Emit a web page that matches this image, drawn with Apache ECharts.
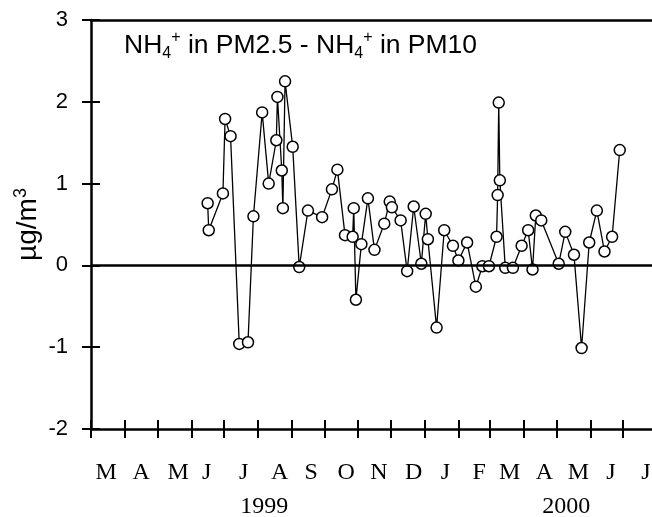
<!DOCTYPE html>
<html>
<head>
<meta charset="utf-8">
<script src="https://cdn.jsdelivr.net/npm/echarts@6/dist/echarts.min.js"></script>
<style>
  html, body { margin: 0; padding: 0; background: #fff; }
  #chart { width: 652px; height: 517px; }
</style>
</head>
<body>
<div id="chart"></div>
<script>
// Sampling dates and NH4+ difference (PM2.5 minus PM10), µg/m3
const sampleDates = [
  '1999-06-16','1999-06-17','1999-06-30','1999-07-02','1999-07-07','1999-07-15','1999-07-23','1999-07-28','1999-08-05','1999-08-11',
  '1999-08-18','1999-08-19','1999-08-23','1999-08-24','1999-08-26','1999-09-02','1999-09-08','1999-09-16','1999-09-29','1999-10-08',
  '1999-10-13','1999-10-20','1999-10-27','1999-10-28','1999-10-30','1999-11-04','1999-11-10','1999-11-16','1999-11-25','1999-11-30',
  '1999-12-02','1999-12-10','1999-12-16','1999-12-22','1999-12-29','2000-01-02','2000-01-04','2000-01-12','2000-01-19','2000-01-27',
  '2000-02-01','2000-02-09','2000-02-17','2000-02-23','2000-02-29','2000-03-07','2000-03-08','2000-03-09','2000-03-10','2000-03-15',
  '2000-03-22','2000-03-30','2000-04-05','2000-04-09','2000-04-12','2000-04-17','2000-05-03','2000-05-09','2000-05-17','2000-05-24',
  '2000-05-31','2000-06-07','2000-06-14','2000-06-21','2000-06-28'
];
const nh4Diff = [
  0.76, 0.43, 0.88, 1.79, 1.58, -0.96, -0.94, 0.60, 1.87, 1.00,
  1.53, 2.06, 1.16, 0.70, 2.25, 1.45, -0.02, 0.67, 0.59, 0.93,
  1.17, 0.37, 0.35, 0.70, -0.42, 0.26, 0.82, 0.19, 0.51, 0.78,
  0.71, 0.55, -0.07, 0.72, 0.02, 0.63, 0.32, -0.76, 0.43, 0.24,
  0.06, 0.28, -0.26, -0.01, -0.01, 0.35, 0.86, 1.99, 1.04, -0.03,
  -0.03, 0.24, 0.43, -0.05, 0.61, 0.55, 0.02, 0.41, 0.13, -1.01,
  0.28, 0.67, 0.17, 0.35, 1.41
];

// Month boundaries (tick marks) on the time axis
const monthStarts = [
  '1999-03-01','1999-04-01','1999-05-01','1999-06-01','1999-07-01','1999-08-01','1999-09-01','1999-10-01',
  '1999-11-01','1999-12-01','2000-01-01','2000-02-01','2000-03-01','2000-04-01','2000-05-01','2000-06-01','2000-07-01'
];
// Month initials and where each one sits
const monthLetters = ['M','A','M','J','J','A','S','O','N','D','J','F','M','A','M','J','J'];
const monthLabelDates = [
  '1999-03-15','1999-04-16','1999-05-20','1999-06-15','1999-07-19','1999-08-21','1999-09-19','1999-10-21',
  '1999-11-20','1999-12-22','2000-01-20','2000-02-20','2000-03-19','2000-04-20','2000-05-21','2000-06-20','2000-07-22'
];
// Year captions under the month row
const yearLabels = ['1999', '2000'];
const yearLabelDates = ['1999-08-07', '2000-05-10'];

// Value axis ticks
const yTicks = [-2, -1, 0, 1, 2, 3];

const t = s => Date.parse(s + 'T00:00:00Z');
const xMin = t('1999-03-01');
const xMax = t('2000-07-27') + 14 * 3600 * 1000;

const monthTickVals = monthStarts.map(t);
const monthLabelVals = monthLabelDates.map(t);
const monthLabelMap = new Map(monthLabelVals.map((v, i) => [v, monthLetters[i]]));
const yearLabelVals = yearLabelDates.map(t);
const yearLabelMap = new Map(yearLabelVals.map((v, i) => [v, yearLabels[i]]));

const seriesData = sampleDates.map((d, i) => [t(d), nh4Diff[i]]);

const SANS = '"Liberation Sans", Arial, Helvetica, sans-serif';
const SERIF = '"Liberation Serif", "Times New Roman", Times, serif';
const AXIS_W = 2.5;
const TICK_W = 2;

const chart = echarts.init(document.getElementById('chart'), null, { renderer: 'canvas' });

const baseX = {
  type: 'value',
  min: xMin,
  max: xMax,
  splitLine: { show: false },
  axisLine: { onZero: false }
};

chart.setOption({
  animation: false,
  backgroundColor: '#ffffff',
  title: {
    left: 124,
    top: 30,
    padding: 0,
    text: '{m|NH}{sub|4}{sup|+}{m| in PM2.5 - NH}{sub|4}{sup|+}{m| in PM10}',
    textStyle: {
      fontWeight: 'normal',
      rich: {
        m:   { fontFamily: SANS, fontSize: 26.5, fontWeight: 'normal', lineHeight: 32, color: '#000' },
        sub: { fontFamily: SANS, fontSize: 16, fontWeight: 'normal', lineHeight: 19, verticalAlign: 'bottom', color: '#000' },
        sup: { fontFamily: SANS, fontSize: 16, fontWeight: 'normal', lineHeight: 21, verticalAlign: 'top', color: '#000' }
      }
    }
  },
  grid: { left: 91, right: 0, top: 20, bottom: 88, containLabel: false, outerBoundsMode: 'none' },
  xAxis: [
    Object.assign({}, baseX, {
      position: 'bottom',
      axisLine: { show: true, onZero: false, lineStyle: { color: '#000', width: AXIS_W } },
      axisTick: { show: true, inside: false, length: 9, customValues: monthTickVals,
                  lineStyle: { color: '#000', width: TICK_W } },
      axisLabel: {
        show: true, customValues: monthLabelVals, margin: 32,
        fontFamily: SERIF, fontSize: 24, color: '#000',
        formatter: v => monthLabelMap.get(v) || ''
      }
    }),
    Object.assign({}, baseX, {
      position: 'bottom',
      axisLine: { show: false, onZero: false },
      axisTick: { show: true, inside: true, length: 9, customValues: monthTickVals,
                  lineStyle: { color: '#000', width: TICK_W } },
      axisLabel: {
        show: true, customValues: yearLabelVals, margin: 66,
        fontFamily: SERIF, fontSize: 24, color: '#000',
        formatter: v => yearLabelMap.get(v) || ''
      }
    }),
    Object.assign({}, baseX, {
      position: 'top',
      axisLine: { show: true, onZero: false, lineStyle: { color: '#000', width: AXIS_W } },
      axisTick: { show: false },
      axisLabel: { show: false }
    })
  ],
  yAxis: [
    {
      type: 'value', min: yTicks[0], max: yTicks[yTicks.length - 1], interval: 1,
      position: 'left',
      name: '{a|µg/m}{s|3}',
      nameLocation: 'middle',
      nameRotate: 90,
      nameGap: 47,
      nameMoveOverlap: false,
      nameTextStyle: {
        rich: {
          a: { fontFamily: SANS, fontSize: 28, lineHeight: 32, color: '#000' },
          s: { fontFamily: SANS, fontSize: 18, lineHeight: 22, verticalAlign: 'top', color: '#000' }
        }
      },
      splitLine: { show: false },
      axisLine: { show: true, onZero: false, lineStyle: { color: '#000', width: AXIS_W } },
      axisTick: { show: true, inside: false, length: 9, lineStyle: { color: '#000', width: TICK_W } },
      axisLabel: { show: true, margin: 23, fontFamily: SANS, fontSize: 22, color: '#000',
                   formatter: v => String(v) }
    },
    {
      type: 'value', min: yTicks[0], max: yTicks[yTicks.length - 1], interval: 1,
      position: 'left',
      splitLine: { show: false },
      axisLine: { show: false, onZero: false },
      axisTick: { show: true, inside: true, length: 9, lineStyle: { color: '#000', width: TICK_W } },
      axisLabel: { show: false }
    }
  ],
  series: [
    {
      type: 'line',
      xAxisIndex: 0,
      yAxisIndex: 0,
      data: seriesData,
      symbol: 'circle',
      symbolSize: 11,
      showSymbol: true,
      lineStyle: { color: '#000', width: 1.3 },
      itemStyle: { color: '#fff', borderColor: '#000', borderWidth: 1.5 },
      emphasis: { disabled: true },
      markLine: {
        silent: true,
        symbol: 'none',
        label: { show: false },
        lineStyle: { color: '#000', width: 2.5, type: 'solid' },
        data: [{ yAxis: 0 }]
      }
    }
  ]
});
</script>
</body>
</html>
